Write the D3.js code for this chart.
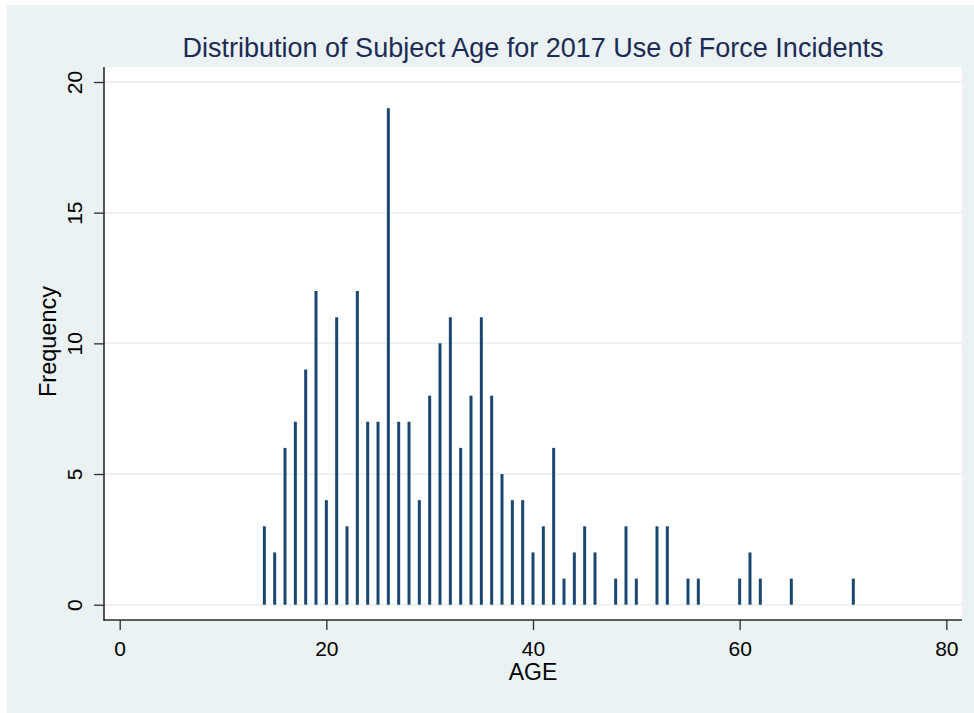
<!DOCTYPE html>
<html>
<head>
<meta charset="utf-8">
<script src="https://cdn.jsdelivr.net/npm/d3@7"></script>
<style>
  html, body { margin: 0; padding: 0; background: #ffffff; }
  svg { display: block; font-family: "Liberation Sans", Arial, sans-serif; }
</style>
</head>
<body>
<svg id="chart" width="974" height="713"></svg>
<script>
// Subject age (years) and number of 2017 use-of-force incidents at that age
const ages = [14, 15, 16, 17, 18, 19, 20, 21, 22, 23, 24, 25, 26, 27, 28, 29, 30,
              31, 32, 33, 34, 35, 36, 37, 38, 39, 40, 41, 42, 43, 44, 45, 46,
              48, 49, 50, 52, 53, 55, 56, 60, 61, 62, 65, 71];
const frequencies = [3, 2, 6, 7, 9, 12, 4, 11, 3, 12, 7, 7, 19, 7, 7, 4, 8,
                     10, 11, 6, 8, 11, 8, 5, 4, 4, 2, 3, 6, 1, 2, 3, 2,
                     1, 3, 1, 3, 3, 1, 1, 1, 2, 1, 1, 1];
const xTicks = [0, 20, 40, 60, 80];
const yTicks = [0, 5, 10, 15, 20];

const chartTitle = "Distribution of Subject Age for 2017 Use of Force Incidents";
const xTitle = "AGE";
const yTitle = "Frequency";

const data = ages.map((a, i) => ({ age: a, freq: frequencies[i] }));

const svg = d3.select("#chart");
const W = 974, H = 713;
const plot = { left: 104, top: 67, right: 962, bottom: 620 };

const bgColor = "#eaf2f3";
const barColor = "#1a476f";
const axisColor = "#2b2b2b";

// outer graph region
svg.append("rect").attr("x", 7).attr("y", 5).attr("width", W - 7).attr("height", H - 5)
  .attr("fill", bgColor);
// plot region
svg.append("rect").attr("x", plot.left).attr("y", plot.top)
  .attr("width", plot.right - plot.left).attr("height", plot.bottom - plot.top)
  .attr("fill", "#ffffff");

const x = d3.scaleLinear().domain([0, 80]).range([119.7, 946.3]);
const y = d3.scaleLinear().domain([0, 20]).range([604.7, 82]);

// horizontal grid lines
svg.append("g").selectAll("line").data(yTicks).join("line")
  .attr("x1", plot.left).attr("x2", plot.right)
  .attr("y1", d => y(d)).attr("y2", d => y(d))
  .attr("stroke", bgColor).attr("stroke-width", 2);

// spikes
svg.append("g").selectAll("line").data(data).join("line")
  .attr("x1", d => x(d.age)).attr("x2", d => x(d.age))
  .attr("y1", y(0)).attr("y2", d => y(d.freq))
  .attr("stroke", barColor).attr("stroke-width", 3);

// y axis
const yAxis = svg.append("g").attr("transform", `translate(${plot.left},0)`)
  .call(d3.axisLeft(y).tickValues(yTicks).tickSize(10).tickSizeOuter(0));
yAxis.select(".domain").remove();
yAxis.selectAll(".tick line").attr("stroke", axisColor).attr("stroke-width", 1.3);
yAxis.selectAll(".tick text")
  .attr("transform", "rotate(-90)")
  .attr("x", 0).attr("y", -21.7).attr("dy", 0)
  .attr("text-anchor", "middle")
  .attr("fill", "#000").style("font-size", "21px").style("font-family", "Liberation Sans, Arial, sans-serif");
svg.append("line").attr("x1", plot.left).attr("x2", plot.left)
  .attr("y1", plot.top).attr("y2", plot.bottom + 1)
  .attr("stroke", axisColor).attr("stroke-width", 1.6);

// x axis
const xAxis = svg.append("g").attr("transform", `translate(0,${plot.bottom})`)
  .call(d3.axisBottom(x).tickValues(xTicks).tickSize(10).tickSizeOuter(0));
xAxis.select(".domain").remove();
xAxis.selectAll(".tick line").attr("stroke", axisColor).attr("stroke-width", 1.3);
xAxis.selectAll(".tick text")
  .attr("y", 36).attr("dy", 0)
  .attr("fill", "#000").style("font-size", "21px").style("font-family", "Liberation Sans, Arial, sans-serif");
svg.append("line").attr("x1", plot.left).attr("x2", plot.right)
  .attr("y1", plot.bottom).attr("y2", plot.bottom)
  .attr("stroke", axisColor).attr("stroke-width", 1.6);

// axis titles
svg.append("text").attr("x", (plot.left + plot.right) / 2).attr("y", 680)
  .attr("text-anchor", "middle").style("font-size", "23px").attr("fill", "#000")
  .text(xTitle);
svg.append("text").attr("transform", `translate(56,${(plot.top + plot.bottom) / 2 - 2}) rotate(-90)`)
  .attr("text-anchor", "middle").style("font-size", "23.5px").attr("fill", "#000")
  .text(yTitle);

// chart title
svg.append("text").attr("x", 533).attr("y", 57)
  .attr("text-anchor", "middle").style("font-size", "27px").attr("fill", "#1c2a55")
  .text(chartTitle);
</script>
</body>
</html>
